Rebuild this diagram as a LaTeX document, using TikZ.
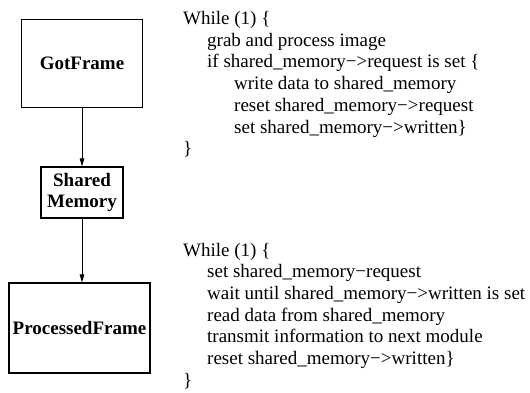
\documentclass[tikz,border=0pt]{standalone}
\usepackage{fontspec}
\setmainfont{Liberation Serif}
\usetikzlibrary{arrows.meta}
\begin{document}
\begin{tikzpicture}[x=1pt,y=-1pt,
  box/.style={draw, line width=1.1pt, inner sep=0pt, font=\fontsize{19}{21}\selectfont\bfseries, align=center},
  code/.style={anchor=base west, inner sep=0pt, font=\fontsize{19}{21}\selectfont},
  conn/.style={-{Triangle[length=8pt,width=4.5pt]}, line width=0.9pt}]
\useasboundingbox (0,0) rectangle (530,392);
\node[box, minimum width=121pt, minimum height=88pt] (got) at (82,63.5) {GotFrame};
\node[box, minimum width=82pt, minimum height=51pt] (sm) at (82,192.5) {Shared\\Memory};
\node[box, minimum width=141pt, minimum height=90pt] (pf) at (79.5,328) {ProcessedFrame};
\draw[conn] (got.south -| sm.north) -- (sm.north);
\draw[conn] (sm.south) -- (sm.south |- pf.north);
% block 1
\node[code] (a1) at (183,24.5) {While (1) \{};
\node[code] (a2) at (207,46.2) {grab and process image};
\node[code] (a3) at (207,67.9) {if shared\_memory−>request is set \{};
\node[code] (a4) at (234,89.6) {write data to shared\_memory};
\node[code] (a5) at (234,111.3) {reset shared\_memory−>request};
\node[code] (a6) at (234,133) {set shared\_memory−>written\}};
\node[code] (a7) at (183,154.7) {\}};
% block 2
\node[code] (b1) at (183,256) {While (1) \{};
\node[code] (b2) at (207,277.7) {set shared\_memory−request};
\node[code] (b3) at (207,299.4) {wait until shared\_memory−>written is set};
\node[code] (b4) at (207,321.1) {read data from shared\_memory};
\node[code] (b5) at (207,342.8) {transmit information to next module};
\node[code] (b6) at (207,364.5) {reset shared\_memory−>written\}};
\node[code] (b7) at (183,386.2) {\}};
\end{tikzpicture}
\end{document}
